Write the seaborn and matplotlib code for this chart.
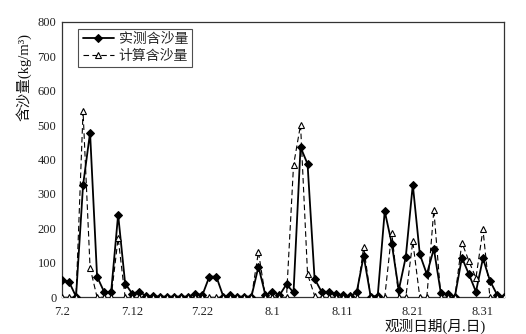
import matplotlib
matplotlib.use('Agg')
import matplotlib.pyplot as plt
import seaborn as sns
import pandas as pd
import numpy as np

# 实测含沙量 (daily, 7.2 .. 9.3)
measured = [50, 45, 2, 325, 478, 60, 16, 14, 240, 40,
            11, 16, 4, 3, 2, 2, 2, 2, 2, 11,
            6, 60, 60, 2, 6, 2, 2, 2, 89, 6,
            16, 6, 38, 14, 436, 387, 54, 16, 16, 9,
            6, 3, 14, 120, 2, 4, 250, 156, 21, 117,
            327, 125, 67, 141, 12, 9, 2, 115, 67, 16,
            113, 48, 8, 0]
# 计算含沙量
computed = [0, 0, 0, 540, 86, 0, 0, 0, 172, 0,
            0, 0, 0, 0, 0, 0, 0, 0, 0, 0,
            0, 0, 0, 0, 0, 0, 0, 0, 132, 0,
            0, 0, 0, 383, 501, 67, 5, 0, 0, 0,
            0, 0, 0, 146, 0, 0, 0, 188, 0, 0,
            162, 0, 0, 254, 0, 0, 0, 159, 105, 56,
            197, 0, 0, 0]
tick_idx = [0, 10, 20, 30, 40, 50, 60]
tick_labels = ['7.2', '7.12', '7.22', '8.1', '8.11', '8.21', '8.31']
y_ticks = [0, 100, 200, 300, 400, 500, 600, 700, 800]

sns.set_theme(style='white')
plt.rcParams['font.family'] = ['Liberation Serif', 'Noto Sans CJK SC']

fig = plt.figure(figsize=(5.26, 3.34), dpi=100)
ax = fig.add_axes([62 / 526, 1 - 297.3 / 334, 442 / 526, 275.6 / 334])

df = pd.DataFrame({'day': np.arange(len(measured)),
                   'measured': measured, 'computed': computed})

sns.lineplot(data=df, x='day', y='measured', ax=ax, color='black', lw=1.3,
             marker='D', markersize=4.3, markerfacecolor='black',
             markeredgecolor='black', label='实测含沙量', zorder=3)
sns.lineplot(data=df, x='day', y='computed', ax=ax, color='black', lw=0.8,
             linestyle=(0, (5, 3)), marker='^', markersize=5,
             markerfacecolor='white', markeredgecolor='black',
             markeredgewidth=0.8, label='计算含沙量', zorder=4)

ax.set_xlim(0, len(measured) - 1)
ax.set_ylim(0, 800)
ax.set_xticks(tick_idx)
ax.set_xticklabels(tick_labels)
ax.set_yticks(y_ticks)
ax.tick_params(axis='both', direction='in', length=4, width=0.8,
               colors='#222222', labelsize=9, pad=4)
ax.tick_params(axis='x', pad=6)
for s in ax.spines.values():
    s.set_color('#333333')
    s.set_linewidth(0.9)

ax.set_xlabel('观测日期(月.日)', fontsize=10.5, color='#111111', va='center')
ax.xaxis.set_label_coords(0.845, -0.105)
ax.set_ylabel('含沙量(kg/m³)', fontsize=10.5, color='#111111', va='center')
ax.yaxis.set_label_coords(-0.088, 0.80)

leg = ax.legend(loc='upper left', bbox_to_anchor=(0.037, 0.975), fontsize=10,
                frameon=True, fancybox=False, edgecolor='#222222',
                handlelength=2.3, borderpad=0.3, labelspacing=0.3,
                handletextpad=0.3, borderaxespad=0.0)
leg.get_frame().set_linewidth(0.8)

fig.savefig('out.png', dpi=100)
